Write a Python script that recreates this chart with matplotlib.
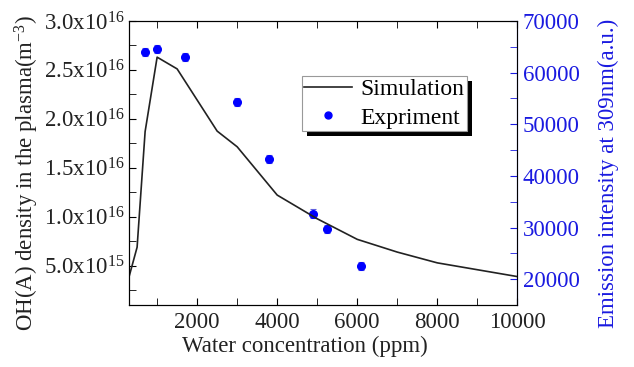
import matplotlib
matplotlib.use("Agg")
import matplotlib.pyplot as plt
from matplotlib.patches import Rectangle
from matplotlib.transforms import IdentityTransform
from matplotlib.ticker import MultipleLocator, FixedLocator, FixedFormatter

plt.rcParams['font.family'] = ['Liberation Serif', 'DejaVu Serif']
plt.rcParams['mathtext.fontset'] = 'custom'
plt.rcParams['mathtext.rm'] = 'Liberation Serif'
plt.rcParams['mathtext.it'] = 'Liberation Serif:italic'

# simulated OH(A) density
sim_x = [300, 500, 700, 1000, 1500, 2500, 3000, 4000, 5000, 6000, 7000, 8000, 9000, 10000]
sim_y = [3.9e15, 6.9e15, 1.87e16, 2.63e16, 2.51e16, 1.875e16, 1.715e16, 1.222e16,
         9.8e15, 7.7e15, 6.4e15, 5.3e15, 4.6e15, 3.9e15]

# measured emission at 309 nm
exp_x = [700, 1000, 1700, 3000, 3800, 4900, 5250, 6100]
exp_y = [64000, 64500, 63000, 54300, 43200, 32700, 29700, 22500]
exp_err = [800, 800, 800, 800, 800, 800, 800, 800]

left_ticks = [5e15, 1.0e16, 1.5e16, 2.0e16, 2.5e16, 3.0e16]
left_labels = [r'5.0x10$^{15}$', r'1.0x10$^{16}$', r'1.5x10$^{16}$',
               r'2.0x10$^{16}$', r'2.5x10$^{16}$', r'3.0x10$^{16}$']

blue = '#1a1ae0'
fs = 16.5

fig = plt.figure(figsize=(6.34, 3.67), dpi=100)
ax = fig.add_axes([0.203, 0.169, 0.613, 0.774])
ax2 = ax.twinx()

line, = ax.plot(sim_x, sim_y, color='#222222', lw=1.2, label='Simulation')
ax2.errorbar(exp_x, exp_y, yerr=exp_err, fmt='o', color='blue', ms=5.5,
             ecolor='#6060e0', elinewidth=0.8, capsize=2.5, capthick=0.8)
pts, = ax2.plot([], [], 'o', color='blue', ms=5, label='Expriment')

ax.set_xlim(290, 10000)
ax.set_ylim(1e15, 3e16)
ax2.set_ylim(15000, 70000)

ax.xaxis.set_major_locator(FixedLocator([2000, 4000, 6000, 8000, 10000]))
ax.xaxis.set_minor_locator(MultipleLocator(1000))
ax.yaxis.set_major_locator(FixedLocator(left_ticks))
ax.yaxis.set_major_formatter(FixedFormatter(left_labels))
ax.yaxis.set_minor_locator(MultipleLocator(2.5e15))
ax2.yaxis.set_major_locator(MultipleLocator(10000))
ax2.yaxis.set_minor_locator(MultipleLocator(5000))

ax.tick_params(axis='both', which='both', direction='in', labelsize=fs,
               top=True, length=5, labelcolor='#222222')
ax.tick_params(axis='x', pad=5)
ax.tick_params(axis='y', pad=3)
ax2.tick_params(axis='y', which='both', direction='in', length=5,
                colors=blue, labelsize=fs, pad=4)
ax2.spines['right'].set_color(blue)

ax.set_xlabel('Water concentration (ppm)', fontsize=fs, labelpad=2, color='#222222')
ax.set_ylabel(r'OH(A) density in the plasma(m$^{-3}$)', fontsize=fs, labelpad=2,
              color='#222222')
ax2.set_ylabel('Emission intensity at 309nm(a.u.)', fontsize=fs, color=blue, labelpad=13)
ax.xaxis.label.set_x(0.454)
ax.yaxis.label.set_y(0.465)
ax2.yaxis.label.set_y(0.463)

leg = ax.legend([line, pts], ['Simulation', 'Expriment'], loc='upper left',
                bbox_to_anchor=(0.445, 0.806), borderaxespad=0, fontsize=17,
                fancybox=False, edgecolor='#999999', framealpha=1,
                handlelength=2.0, handletextpad=0.38, borderpad=0.12,
                labelspacing=0.28)
leg.get_frame().set_linewidth(0.8)
ax.set_zorder(ax2.get_zorder() + 1)
ax.patch.set_visible(False)

# solid black drop shadow behind the legend box
fig.canvas.draw()
bb = leg.get_window_extent()
ax.add_patch(Rectangle((bb.x0 + 5, bb.y0 - 5), bb.width, bb.height,
                       transform=IdentityTransform(), facecolor='black',
                       edgecolor='none', zorder=leg.get_zorder() - 0.1,
                       clip_on=False))

fig.savefig('out.png', dpi=100)
